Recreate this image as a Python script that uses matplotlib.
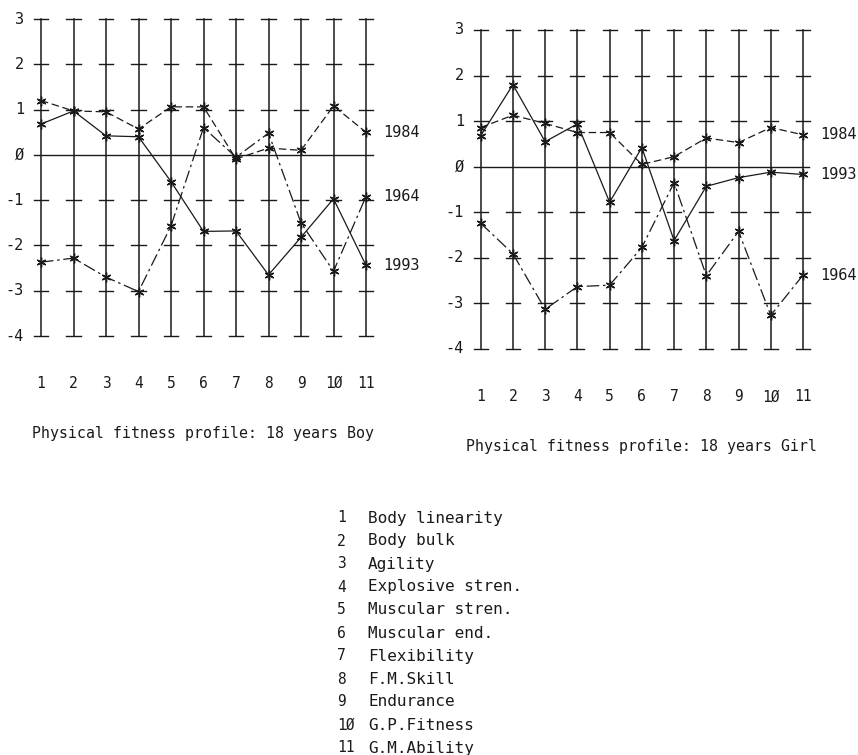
import matplotlib.pyplot as plt

# Datos: perfil de condición física (18 años)
items = list(range(1, 12))
item_labels = ['1', '2', '3', '4', '5', '6', '7', '8', '9', '1Ø', '11']
y_ticks = [3, 2, 1, 0, -1, -2, -3, -4]
y_tick_labels = ['3', '2', '1', 'Ø', '-1', '-2', '-3', '-4']

boy_1984 = [1.2, 0.97, 0.95, 0.57, 1.06, 1.06, -0.09, 0.15, 0.1, 1.08, 0.5]
boy_1964 = [-2.37, -2.28, -2.7, -3.02, -1.57, 0.6, -0.05, 0.48, -1.5, -2.57, -0.92]
boy_1993 = [0.68, 0.97, 0.42, 0.4, -0.59, -1.69, -1.68, -2.65, -1.82, -0.97, -2.44]

girl_1984 = [0.86, 1.13, 0.95, 0.75, 0.75, 0.05, 0.22, 0.63, 0.53, 0.86, 0.7]
girl_1993 = [0.68, 1.8, 0.55, 0.94, -0.78, 0.42, -1.62, -0.43, -0.24, -0.12, -0.17]
girl_1964 = [-1.24, -1.91, -3.13, -2.63, -2.6, -1.77, -0.35, -2.39, -1.42, -3.26, -2.38]

legend_items = ['Body linearity', 'Body bulk', 'Agility', 'Explosive stren.',
                'Muscular stren.', 'Muscular end.', 'Flexibility', 'F.M.Skill',
                'Endurance', 'G.P.Fitness', 'G.M.Ability']
legend_nums = ['1', '2', '3', '4', '5', '6', '7', '8', '9', '1Ø', '11']

W, H = 858, 755
FONT = 'DejaVu Sans Mono'
INK = '#1a1a1a'


def make_axes(fig, x1_px, x11_px, y3_px, ym4_px):
    # ejes posicionados por píxeles: x=1..11, y=3..-4
    ux = (x11_px - x1_px) / 10.0
    uy = (ym4_px - y3_px) / 7.0
    x0, x1 = 0.5, 11.5
    y0, y1 = -4.2, 3.2
    left = x1_px - (1 - x0) * ux
    right = x1_px + (x1 - 1) * ux
    top = y3_px - (y1 - 3) * uy
    bottom = ym4_px + (-4 - y0) * uy
    ax = fig.add_axes([left / W, 1 - bottom / H, (right - left) / W, (bottom - top) / H])
    ax.set_xlim(x0, x1)
    ax.set_ylim(y0, y1)
    ax.axis('off')
    return ax


def draw_profile(ax, series, names, styles, label_y, title):
    for x in items:
        ax.plot([x, x], [-4, 3], color=INK, lw=1.1, zorder=1)
        for y in y_ticks:
            if y != 0:
                ax.plot([x - 0.22, x + 0.22], [y, y], color=INK, lw=1.0, zorder=1)
    ax.plot([0.78, 11.2], [0, 0], color=INK, lw=1.0, zorder=1)

    for vals, ls in zip(series, styles):
        ax.plot(items, vals, color=INK, lw=0.9, linestyle=ls,
                marker=(6, 2, 0), markersize=7, markeredgewidth=1.0, zorder=3)

    for y, lab in zip(y_ticks, y_tick_labels):
        ax.text(0.48, y, lab, ha='right', va='center', fontsize=11,
                family=FONT, color=INK, clip_on=False)
    for x, lab in zip(items, item_labels):
        ax.text(x, -5.05, lab, ha='center', va='center', fontsize=10.5,
                family=FONT, color=INK, clip_on=False)
    for name, y in zip(names, label_y):
        ax.text(11.52, y, name, ha='left', va='center', fontsize=11,
                family=FONT, color=INK, clip_on=False)
    ax.text(6.0, -6.15, title, ha='center', va='center', fontsize=10.7,
            family=FONT, color=INK, clip_on=False)


fig = plt.figure(figsize=(W / 100, H / 100), dpi=100)

dash_84 = (0, (6, 3))
dash_64 = (0, (10, 3, 2, 3))

ax1 = make_axes(fig, 41, 366, 19, 336)
draw_profile(ax1, [boy_1984, boy_1964, boy_1993], ['1984', '1964', '1993'],
             [dash_84, dash_64, '-'], [boy_1984[-1], boy_1964[-1], boy_1993[-1]],
             'Physical fitness profile: 18 years Boy')

ax2 = make_axes(fig, 480.7, 803, 30, 349)
draw_profile(ax2, [girl_1984, girl_1993, girl_1964], ['1984', '1993', '1964'],
             [dash_84, '-', dash_64], [girl_1984[-1], girl_1993[-1], girl_1964[-1]],
             'Physical fitness profile: 18 years Girl')

for i, (num, name) in enumerate(zip(legend_nums, legend_items)):
    ypx = 518 + 23 * i
    fig.text(337 / W, 1 - ypx / H, num, ha='left', va='center', fontsize=10.5,
             family=FONT, color=INK)
    fig.text(368 / W, 1 - ypx / H, name, ha='left', va='center', fontsize=11.5,
             family=FONT, color=INK)

fig.savefig('out.png', dpi=100, facecolor='white')
